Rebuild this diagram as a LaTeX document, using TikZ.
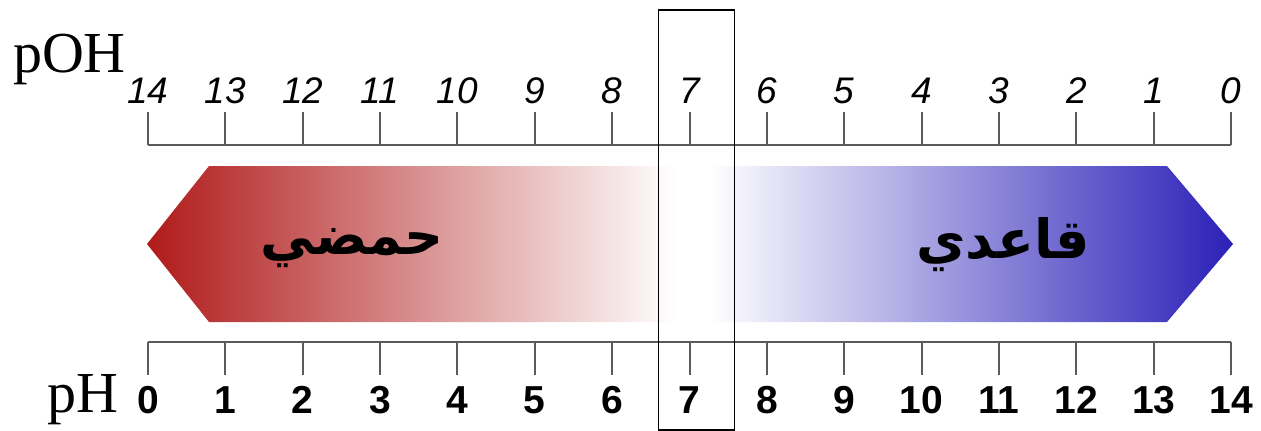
\documentclass[tikz,border=0pt]{standalone}
\usepackage{fontspec}
\setmainfont{Liberation Serif}
\newfontfamily\axisfont{Liberation Sans}
\newfontfamily\arabicfont[Script=Arabic]{DejaVu Sans}
\TeXXeTstate=1
\definecolor{acidred}{HTML}{B01A1A}
\definecolor{basblue}{HTML}{2A20B8}
\definecolor{axisgray}{HTML}{5A5A5A}
\tikzset{
  axisline/.style={axisgray, line width=2.2pt},
  tickline/.style={axisgray, line width=2pt},
  pohlabel/.style={anchor=base, inner sep=0pt, font=\axisfont\itshape\fontsize{37}{37}\selectfont},
  phlabel/.style={anchor=base, inner sep=0pt, font=\axisfont\bfseries\fontsize{39}{39}\selectfont},
  scalename/.style={inner sep=0pt, font=\fontsize{58}{58}\selectfont},
  arabiclabel/.style={inner sep=0pt, font=\arabicfont\bfseries\fontsize{54}{54}\selectfont}
}
\begin{document}
\begin{tikzpicture}[x=1pt,y=-1pt]
\useasboundingbox (0,0) rectangle (1261,431);
% arrow body with gradient
\begin{scope}
  \clip (147,244) -- (209,166) -- (1167,166) -- (1233,244) -- (1167,322) -- (209,322) -- cycle;
  \shade[left color=acidred, right color=white] (146,160) rectangle (676,330);
  \fill[white] (675,160) rectangle (710,330);
  \shade[left color=white, right color=basblue] (709,160) rectangle (1234,330);
\end{scope}
% axes
\coordinate (ta) at (148,145);
\coordinate (tb) at (1231,145);
\coordinate (ba) at (148,342);
\coordinate (bb) at (1231,342);
\draw[axisline] (ta) -- (tb);
\draw[axisline] (ba) -- (bb);
\foreach \i in {0,...,14}{
  \pgfmathsetmacro{\xx}{148+\i*77.36}
  \pgfmathtruncatemacro{\poh}{14-\i}
  \coordinate (tt\i) at (\xx,112);
  \coordinate (tf\i) at (\xx,145);
  \coordinate (bt\i) at (\xx,342);
  \coordinate (bf\i) at (\xx,375);
  \draw[tickline] (tt\i) -- (tf\i);
  \draw[tickline] (bt\i) -- (bf\i);
  \node[pohlabel] (poh\i) at (\xx,103) {\poh};
  \node[phlabel] (ph\i) at (\xx,413) {\i};
}
% scale names
\node[scalename, anchor=base east] (pohname) at (126,72) {pOH};
\node[scalename, anchor=base east] (phname) at (119,412) {pH};
% arabic labels
\node[arabiclabel] (acid) at (352,248) {\beginR حمضي\endR};
\node[arabiclabel] (base) at (1003,245) {\beginR قاعدي\endR};
% neutral box
\node[draw=black, line width=1.3pt, minimum width=76pt, minimum height=420pt, inner sep=0pt] (neutral) at (696.5,220) {};
\end{tikzpicture}
\end{document}
